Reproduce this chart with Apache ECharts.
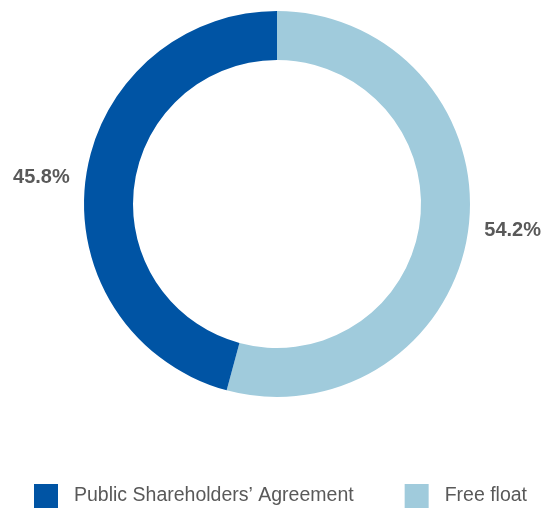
<!DOCTYPE html>
<html>
<head>
<meta charset="utf-8">
<script src="https://cdn.jsdelivr.net/npm/echarts@6/dist/echarts.min.js"></script>
<style>
  html, body { margin: 0; padding: 0; background: #ffffff; }
  #chart { width: 541px; height: 511px; }
</style>
</head>
<body>
<div id="chart"></div>
<script>
// Shareholder structure
const categories = ['Public Shareholders\u2019 Agreement', 'Free float'];
const shares = [45.8, 54.2];
const colors = ['#0054a4', '#a0cbdc'];

const chart = echarts.init(document.getElementById('chart'), null, { renderer: 'canvas' });

// Free float is drawn first so it starts at 12 o'clock and runs clockwise
const order = [1, 0];
const pieData = order.map(i => ({
  name: categories[i],
  value: shares[i],
  itemStyle: { color: colors[i] }
}));

const font = '"Liberation Sans", Arial, Helvetica, sans-serif';

chart.setOption({
  animation: false,
  legend: {
    data: categories,
    orient: 'horizontal',
    top: 484,
    left: 34,
    width: 520,
    padding: 0,
    itemWidth: 24,
    itemHeight: 24,
    itemGap: 51,
    icon: 'rect',
    textStyle: {
      fontFamily: font,
      fontSize: 19.5,
      color: '#595959',
      padding: [0, 0, 0, 11]
    }
  },
  series: [{
    type: 'pie',
    center: [277, 204],
    radius: [144, 193],
    startAngle: 90,
    clockwise: true,
    data: pieData,
    label: {
      show: true,
      position: 'outside',
      overflow: 'none',
      formatter: p => p.value.toFixed(1) + '%',
      fontFamily: font,
      fontWeight: 'bold',
      fontSize: 20,
      lineHeight: 24,
      color: '#595959'
    },
    labelLine: { show: false, length: 5, length2: 6 },
    emphasis: { disabled: true }
  }]
});
</script>
</body>
</html>
